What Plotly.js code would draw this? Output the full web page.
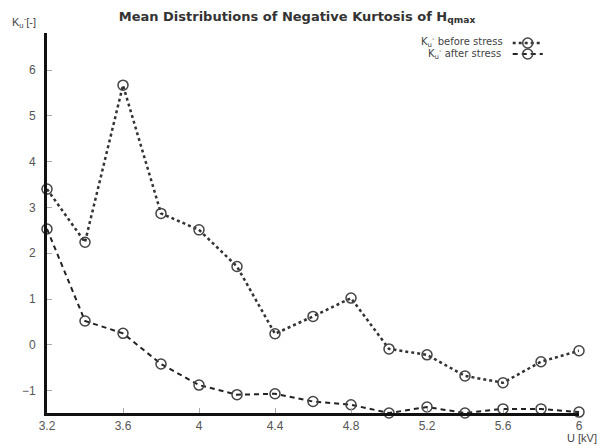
<!DOCTYPE html>
<html>
<head>
<meta charset="utf-8">
<script src="https://cdn.plot.ly/plotly-3.0.1.min.js"></script>
<style>html,body{margin:0;padding:0;background:#fff;}#chart{width:600px;height:446px;}</style>
</head>
<body>
<div id="chart"></div>
<script>
// Data
const voltage = [3.2, 3.4, 3.6, 3.8, 4.0, 4.2, 4.4, 4.6, 4.8, 5.0, 5.2, 5.4, 5.6, 5.8, 6.0];
const kurtBefore = [3.40, 2.24, 5.67, 2.87, 2.51, 1.71, 0.24, 0.62, 1.02, -0.09, -0.22, -0.68, -0.83, -0.37, -0.13];
const kurtAfter = [2.53, 0.52, 0.25, -0.42, -0.88, -1.09, -1.07, -1.24, -1.31, -1.49, -1.36, -1.49, -1.40, -1.40, -1.47];
const xTicks = [3.2, 3.6, 4.0, 4.4, 4.8, 5.2, 5.6, 6.0];
const yTicks = [-1, 0, 1, 2, 3, 4, 5, 6];
const seriesNames = ["K<sub>u</sub><sup>-</sup> before stress", "K<sub>u</sub><sup>-</sup> after stress"];

const FONT = "Liberation Sans, Arial, sans-serif";
const WIDE = "DejaVu Sans, Verdana, sans-serif";
const markerStyle = {symbol: "circle-open", size: 10, color: "#444", line: {width: 1.5, color: "#444"}};

const traces = [
  {x: voltage, y: kurtBefore, type: "scatter", mode: "lines+markers", name: " ",
   legend: "legend", cliponaxis: false,
   line: {color: "#333", width: 2.5, dash: "dot"}, marker: markerStyle},
  {x: voltage, y: kurtAfter, type: "scatter", mode: "lines+markers", name: " ",
   legend: "legend2", cliponaxis: false,
   line: {color: "#222", width: 2, dash: "5px,4px"}, marker: markerStyle}
];

const legendBase = {
  xanchor: "left", yanchor: "middle", bgcolor: "rgba(0,0,0,0)", borderwidth: 0,
  font: {family: FONT, size: 8, color: "#444"}, itemwidth: 30
};

const layout = {
  width: 600, height: 446,
  margin: {l: 47, r: 21, t: 33, b: 33},
  paper_bgcolor: "#fff", plot_bgcolor: "#fff",
  font: {family: FONT, size: 12, color: "#555"},
  showlegend: true,
  legend: Object.assign({x: 0.866, y: 1 - 10 / 380}, legendBase),
  legend2: Object.assign({x: 0.866, y: 1 - 21 / 380}, legendBase),
  title: {
    text: "Mean Distributions of Negative Kurtosis of H<sub>qmax</sub>",
    font: {family: WIDE, size: 13, color: "#333", weight: "bold"},
    x: 0.495, xanchor: "center", xref: "container",
    y: 1 - 16 / 446, yanchor: "middle", yref: "container"
  },
  xaxis: {
    range: [3.2, 6.0], tickvals: xTicks, ticktext: xTicks.map(v => String(v)),
    showgrid: false, zeroline: false, showline: true, linecolor: "#111", linewidth: 3,
    ticks: "inside", ticklen: 5, tickwidth: 1, tickcolor: "#aaa",
    tickfont: {family: FONT, size: 12, color: "#555"}
  },
  yaxis: {
    range: [-1.49, 6.81], tickvals: yTicks,
    showgrid: false, zeroline: false, showline: true, linecolor: "#111", linewidth: 3,
    ticks: "inside", ticklen: 5, tickwidth: 1, tickcolor: "#aaa",
    tickfont: {family: FONT, size: 12, color: "#555"}, ticklabelstandoff: 6
  },
  annotations: [
    {text: seriesNames[0], xref: "paper", yref: "paper", x: 0.860, y: 1 - 9 / 380,
     xanchor: "right", yanchor: "middle", showarrow: false,
     font: {family: WIDE, size: 10, color: "#444"}},
    {text: seriesNames[1], xref: "paper", yref: "paper", x: 0.858, y: 1 - 21 / 380,
     xanchor: "right", yanchor: "middle", showarrow: false,
     font: {family: WIDE, size: 10, color: "#444"}},
    {text: "K<sub>u</sub><sup>-</sup>[-]", xref: "paper", yref: "paper",
     x: -0.069, y: 1 + 11 / 380, xanchor: "left", yanchor: "middle", showarrow: false,
     font: {family: FONT, size: 11, color: "#444"}},
    {text: "U [kV]", xref: "paper", yref: "paper", x: 1.038, y: -25 / 380,
     xanchor: "right", yanchor: "middle", showarrow: false,
     font: {family: FONT, size: 11, color: "#444"}}
  ]
};

Plotly.newPlot("chart", traces, layout, {displayModeBar: false, staticPlot: true});
</script>
</body>
</html>
